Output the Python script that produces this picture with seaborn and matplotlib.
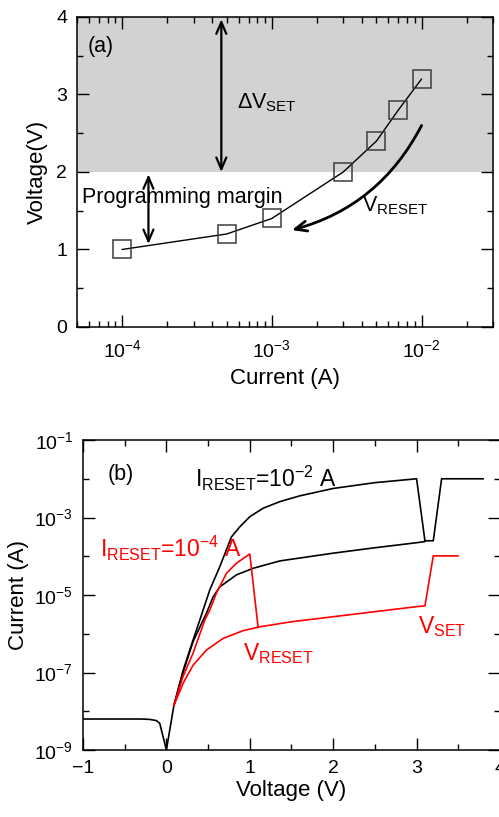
import matplotlib
matplotlib.use("Agg")
import matplotlib.pyplot as plt
import matplotlib.ticker as mticker
import numpy as np
import seaborn as sns

# panel (a): reset-current dependence of voltage
current_a = [1e-4, 5e-4, 1e-3, 3e-3, 5e-3, 7e-3, 1e-2]
voltage_a = [1.0, 1.2, 1.4, 2.0, 2.4, 2.8, 3.2]

# panel (b): I-V sweeps, currents kept as log10(A)
v_neg = [-1.0, -0.3, -0.2, -0.12, -0.08, 0.0]
logi_neg = [-8.2, -8.2, -8.21, -8.24, -8.31, -9.0]

v_black_up = [0.0, 0.09, 0.2, 0.32, 0.4, 0.52, 0.64, 0.78, 0.88, 1.0, 1.16, 1.36, 1.6,
              2.0, 2.5, 3.0, 3.1, 3.2, 3.3, 3.8]
logi_black_up = [-9.0, -7.85, -6.95, -6.16, -5.65, -4.87, -4.27, -3.5, -3.24, -2.98,
                 -2.76, -2.59, -2.44, -2.25, -2.1, -2.0, -3.6, -3.6, -2.0, -2.0]

v_black_low = [0.09, 0.2, 0.32, 0.48, 0.56, 0.64, 0.84, 1.04, 1.36, 2.0, 2.5, 3.0, 3.1]
logi_black_low = [-7.85, -7.0, -6.2, -5.47, -5.05, -4.79, -4.48, -4.31, -4.12, -3.92,
                  -3.78, -3.65, -3.62]

v_red_up = [0.09, 0.2, 0.32, 0.46, 0.52, 0.6, 0.72, 0.84, 1.0, 1.1]
logi_red_up = [-7.85, -7.1, -6.5, -5.65, -5.39, -4.95, -4.44, -4.18, -3.94, -5.84]

v_red_low = [0.09, 0.2, 0.32, 0.48, 0.68, 0.92, 1.12, 1.5, 2.0, 2.5, 3.0, 3.1, 3.2, 3.5]
logi_red_low = [-7.85, -7.28, -6.81, -6.42, -6.12, -5.92, -5.82, -5.69, -5.56, -5.43,
                -5.3, -5.28, -3.99, -3.99]

sns.set_theme(style="ticks")
plt.rcParams["font.family"] = ["Liberation Sans", "DejaVu Sans"]
plt.rcParams["mathtext.fontset"] = "custom"
plt.rcParams["mathtext.rm"] = "Liberation Sans"
plt.rcParams["mathtext.it"] = "Liberation Sans:italic"
plt.rcParams["mathtext.bf"] = "Liberation Sans:bold"
plt.rcParams["mathtext.default"] = "regular"
plt.rcParams["text.color"] = "black"
plt.rcParams["axes.labelcolor"] = "black"

fig = plt.figure(figsize=(4.99, 8.17), dpi=100)
ax1 = fig.add_axes([0.1543, 0.5998, 0.8337, 0.3794])
ax2 = fig.add_axes([0.1663, 0.0820, 0.8357, 0.3794])

for ax in (ax1, ax2):
    for sp in ax.spines.values():
        sp.set_linewidth(1.1)
        sp.set_color("black")
    ax.tick_params(which="both", direction="in", top=True, right=True,
                   width=1.0, color="black", labelsize=14, labelcolor="black")
    ax.tick_params(which="major", length=8.5, pad=7)
    ax.tick_params(which="minor", length=4.5)

# ---- (a)
ax1.axhspan(2, 4, facecolor="#d2d2d2", edgecolor="none", zorder=0)
sns.lineplot(x=current_a, y=voltage_a, ax=ax1, color="black", lw=1.0,
             marker="s", markersize=13, markerfacecolor="none",
             markeredgecolor="#3c3c3c", markeredgewidth=1.1,
             sort=False, estimator=None)
ax1.set_xscale("log")
ax1.set_xlim(5e-5, 3e-2)
ax1.set_ylim(0, 4)
ax1.set_yticks([0, 1, 2, 3, 4])
ax1.yaxis.set_minor_locator(mticker.MultipleLocator(0.5))
ax1.xaxis.set_major_locator(mticker.LogLocator(base=10, numticks=10))
ax1.xaxis.set_minor_locator(mticker.LogLocator(base=10, subs=np.arange(2, 10), numticks=10))
ax1.xaxis.set_minor_formatter(mticker.NullFormatter())
ax1.tick_params(axis="x", which="major", pad=9)
ax1.set_xlabel("Current (A)", fontsize=16, labelpad=5)
ax1.set_ylabel("Voltage(V)", fontsize=16, labelpad=6)

ax1.text(5.9e-5, 3.55, "(a)", fontsize=15.5, va="baseline")
ax1.text(5.85e-4, 2.82, "Δ$V_{SET}$", fontsize=15.5, va="baseline")
ax1.text(5.4e-5, 1.60, "Programming margin", fontsize=15.5, va="baseline")
ax1.text(3.98e-3, 1.49, "$V_{RESET}$", fontsize=15.5, va="baseline")

ax1.annotate("", xy=(4.6e-4, 3.97), xytext=(4.6e-4, 2.0),
             arrowprops=dict(arrowstyle="<->,head_length=0.7,head_width=0.3",
                             lw=1.6, color="black", shrinkA=0, shrinkB=0))
ax1.annotate("", xy=(1.5e-4, 1.97), xytext=(1.5e-4, 1.07),
             arrowprops=dict(arrowstyle="<->,head_length=0.7,head_width=0.3",
                             lw=1.6, color="black", shrinkA=0, shrinkB=0))
ax1.annotate("", xy=(1.36e-3, 1.25), xytext=(1e-2, 2.6),
             arrowprops=dict(arrowstyle="->,head_length=0.7,head_width=0.3",
                             lw=2.0, color="black", shrinkA=0, shrinkB=0,
                             connectionstyle="arc3,rad=-0.22"))

# ---- (b)
def draw(v, logi, color):
    sns.lineplot(x=v, y=10.0 ** np.array(logi), ax=ax2, color=color, lw=1.2,
                 sort=False, estimator=None)

draw(v_neg, logi_neg, "black")
draw(v_black_up, logi_black_up, "black")
draw(v_black_low, logi_black_low, "black")
draw(v_red_up, logi_red_up, "#ff0000")
draw(v_red_low, logi_red_low, "#ff0000")

ax2.set_yscale("log")
ax2.set_xlim(-1, 4)
ax2.set_ylim(1e-9, 1e-1)
ax2.set_xticks([-1, 0, 1, 2, 3, 4])
ax2.xaxis.set_minor_locator(mticker.MultipleLocator(0.5))
ax2.set_yticks([1e-9, 1e-7, 1e-5, 1e-3, 1e-1])
ax2.yaxis.set_major_formatter(mticker.LogFormatterSciNotation())
ax2.yaxis.set_minor_locator(mticker.FixedLocator([1e-8, 1e-6, 1e-4, 1e-2]))
ax2.yaxis.set_minor_formatter(mticker.NullFormatter())
ax2.set_xlabel("Voltage (V)", fontsize=16, labelpad=2)
ax2.set_ylabel("Current (A)", fontsize=16, labelpad=4)

ax2.text(-0.70, 10 ** -2.03, "(b)", fontsize=15.5, va="baseline")
ax2.text(0.34, 10 ** -2.2, "$I_{RESET}$=10$^{-2}$ A", fontsize=16.5, va="baseline",
         color="black")
ax2.text(-0.8, 10 ** -4.01, "$I_{RESET}$=10$^{-4}$ A", fontsize=16.5, va="baseline",
         color="#ff0000")
ax2.text(0.92, 10 ** -6.68, "$V_{RESET}$", fontsize=16.5, va="baseline", color="#ff0000")
ax2.text(3.02, 10 ** -5.99, "$V_{SET}$", fontsize=16.5, va="baseline", color="#ff0000")

fig.savefig("out.png", dpi=100)
